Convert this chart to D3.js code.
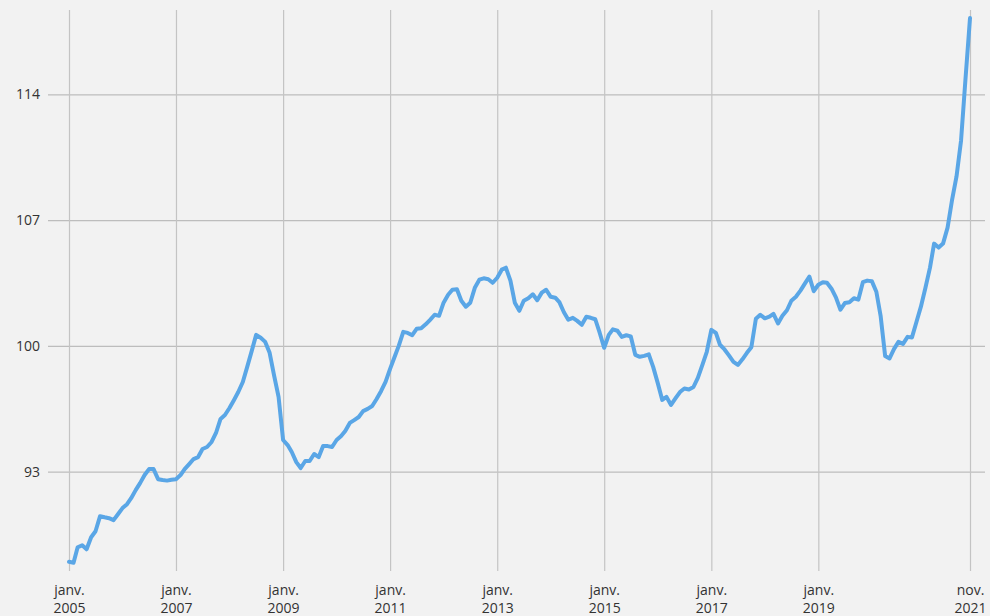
<!DOCTYPE html>
<html>
<head>
<meta charset="utf-8">
<script src="https://cdn.jsdelivr.net/npm/d3@7"></script>
<style>
	html, body { margin: 0; padding: 0; background: #f2f2f2; }
	svg { display: block; }
	.axis text { font-family: "Open Sans", sans-serif; font-size: 14px; fill: #333; }
</style>
</head>
<body>
<div id="chart"></div>
<script>
// monthly index, janv. 2005 -> nov. 2021
const firstMonth = "2005-01";
const values = [
	87.98, 87.93, 88.79, 88.90, 88.68, 89.35, 89.68, 90.52, 90.46, 90.41, 90.30, 90.63,
	90.97, 91.19, 91.52, 91.97, 92.36, 92.81, 93.14, 93.14, 92.58, 92.53, 92.50, 92.55,
	92.58, 92.81, 93.14, 93.42, 93.70, 93.81, 94.26, 94.37, 94.65, 95.15, 95.93, 96.15,
	96.54, 96.99, 97.43, 97.99, 98.83, 99.72, 100.61, 100.45, 100.22, 99.61, 98.33, 97.16,
	94.76, 94.48, 94.09, 93.53, 93.20, 93.59, 93.59, 93.98, 93.81, 94.42, 94.42, 94.37,
	94.76, 94.98, 95.26, 95.71, 95.87, 96.04, 96.37, 96.49, 96.65, 97.04, 97.49, 97.99,
	98.72, 99.39, 100.00, 100.78, 100.72, 100.59, 100.95, 100.98, 101.20, 101.45, 101.73, 101.67,
	102.40, 102.84, 103.12, 103.15, 102.51, 102.18, 102.40, 103.23, 103.68, 103.76, 103.71, 103.51,
	103.79, 104.24, 104.35, 103.63, 102.40, 101.95, 102.51, 102.65, 102.87, 102.54, 102.96, 103.12,
	102.73, 102.68, 102.43, 101.87, 101.45, 101.56, 101.39, 101.17, 101.62, 101.56, 101.48, 100.73,
	99.89, 100.61, 100.92, 100.84, 100.50, 100.59, 100.53, 99.50, 99.39, 99.44, 99.53, 98.83,
	97.94, 96.99, 97.16, 96.71, 97.07, 97.43, 97.63, 97.57, 97.71, 98.22, 98.94, 99.67,
	100.89, 100.72, 100.06, 99.80, 99.47, 99.11, 98.94, 99.25, 99.61, 99.92, 101.51, 101.73,
	101.53, 101.62, 101.78, 101.25, 101.67, 101.98, 102.51, 102.73, 103.07, 103.46, 103.85, 103.04,
	103.40, 103.54, 103.51, 103.18, 102.70, 102.01, 102.38, 102.43, 102.65, 102.57, 103.54, 103.63,
	103.60, 103.01, 101.67, 99.44, 99.30, 99.83, 100.22, 100.11, 100.50, 100.47, 101.34, 102.18,
	103.23, 104.35, 105.69, 105.47, 105.69, 106.58, 108.09, 109.43, 111.43, 114.83, 118.24
];

const xTickMonths = ["2005-01", "2007-01", "2009-01", "2011-01", "2013-01", "2015-01", "2017-01", "2019-01", "2021-11"];
const xTickNames = ["janv.", "janv.", "janv.", "janv.", "janv.", "janv.", "janv.", "janv.", "nov."];
const yTicks = [93, 100, 107, 114];

const width = 990;
const height = 616;

const parseMonth = d3.timeParse("%Y-%m");
const start = parseMonth(firstMonth);
const data = values.map((v, i) => ({date: d3.timeMonth.offset(start, i), value: v}));
const tickDates = xTickMonths.map(parseMonth);

const x = d3.scaleTime()
	.domain([tickDates[0], tickDates[tickDates.length - 1]])
	.range([69, 970]);

const y = d3.scaleLinear()
	.domain([87.47, 118.69])
	.range([571, 10]);

const svg = d3.select("#chart")
	.append("svg")
	.attr("width", width)
	.attr("height", height);

svg.append("rect")
	.attr("width", width)
	.attr("height", height)
	.attr("fill", "#f2f2f2");

// horizontal grid + y labels
const yAxis = svg.append("g")
	.attr("class", "axis y-axis")
	.attr("transform", "translate(48,0)")
	.call(d3.axisLeft(y)
		.tickValues(yTicks)
		.tickFormat(d3.format("d"))
		.tickSize(-(985 - 48))
		.tickPadding(8));
yAxis.select(".domain").remove();
yAxis.selectAll("line").attr("stroke", "#bdbdbd").attr("stroke-width", 1.2);

// vertical grid + x labels
const xAxis = svg.append("g")
	.attr("class", "axis x-axis")
	.attr("transform", "translate(0,571)")
	.call(d3.axisBottom(x)
		.tickValues(tickDates)
		.tickSize(-561)
		.tickFormat(""));
xAxis.select(".domain").remove();
xAxis.selectAll("line").attr("stroke", "#c4c4c4").attr("stroke-width", 1.2);

xAxis.selectAll(".tick").each(function(d, i) {
	const t = d3.select(this).append("text")
		.attr("text-anchor", "middle")
		.attr("y", 24);
	t.append("tspan").attr("x", 0).text(xTickNames[i]);
	t.append("tspan").attr("x", 0).attr("dy", 18).text(d3.timeFormat("%Y")(d));
});

const line = d3.line()
	.x(d => x(d.date))
	.y(d => y(d.value));

svg.append("path")
	.datum(data)
	.attr("d", line)
	.attr("fill", "none")
	.attr("stroke", "#5aa6e6")
	.attr("stroke-width", 4)
	.attr("stroke-linejoin", "round")
	.attr("stroke-linecap", "round");
</script>
</body>
</html>
